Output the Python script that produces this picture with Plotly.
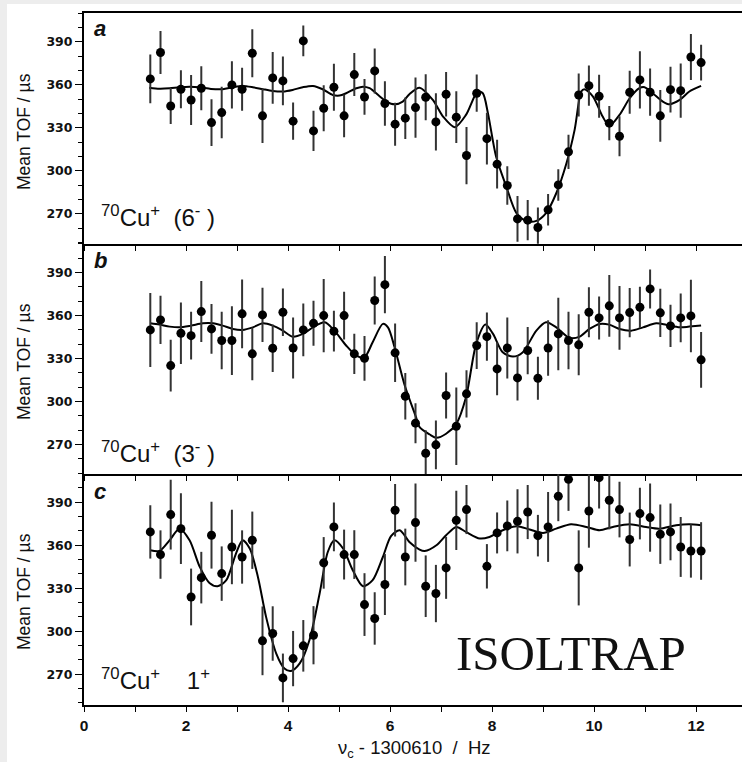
import plotly.graph_objects as go
from plotly.subplots import make_subplots

# ---------------- data ----------------
x_ab = [1.3, 1.5, 1.7, 1.9, 2.1, 2.3, 2.5, 2.7, 2.9, 3.1, 3.3, 3.5, 3.7, 3.9, 4.1, 4.3,
        4.5, 4.7, 4.9, 5.1, 5.3, 5.5, 5.7, 5.9, 6.1, 6.3, 6.5, 6.7, 6.9, 7.1, 7.3, 7.5,
        7.7, 7.9, 8.1, 8.3, 8.5, 8.7, 8.9, 9.1, 9.3, 9.5, 9.7, 9.9, 10.1, 10.3, 10.5,
        10.7, 10.9, 11.1, 11.3, 11.5, 11.7, 11.9, 12.1]

y_a = [364.2, 382.6, 345.3, 357.0, 349.5, 357.7, 333.7, 340.7, 360.0, 357.0,
       382.1, 338.4, 364.9, 362.8, 334.7, 390.7, 327.9, 343.7, 358.4, 338.4,
       367.2, 351.6, 369.8, 347.0, 332.6, 336.8, 344.2, 351.4, 334.2, 353.5,
       337.5, 310.7, 354.2, 322.5, 304.7, 289.8, 266.5, 265.6, 260.5, 272.8,
       290.2, 313.3, 353.0, 359.5, 352.1, 333.3, 324.2, 354.9, 363.5, 354.9,
       338.4, 356.7, 356.0, 379.5, 375.6]
err_a = [17, 15, 12.5, 13.3, 17.5, 15.3, 16.3, 18, 16.5, 15,
         16.7, 19, 18, 17, 13, 10.7, 14, 16, 16.4, 15,
         15, 12.5, 15.7, 15.5, 15, 14.5, 21, 16, 20, 15.5,
         18, 20, 13, 18, 17, 13.4, 16, 14, 14, 11,
         11, 12, 15, 14, 15, 12, 14, 15, 20, 16.5,
         18, 16, 19, 16, 12.5]

y_b = [350.0, 357.0, 325.1, 347.7, 346.0, 362.8, 350.7, 342.6, 342.6, 361.2,
       333.3, 360.5, 337.2, 362.3, 337.4, 350.0, 354.6, 360.0, 349.1, 360.0,
       333.3, 330.2, 370.5, 381.6, 334.0, 303.7, 284.9, 263.9, 269.8, 304.2,
       282.8, 305.4, 339.1, 345.3, 322.8, 337.4, 316.5, 335.6, 316.3, 337.4,
       347.2, 342.6, 339.6, 362.3, 358.4, 366.8, 358.4, 362.1, 365.8, 378.6,
       361.9, 352.8, 358.4, 359.8, 329.1]
err_b = [25.8, 16.9, 18, 21.5, 16.6, 21.3, 17.4, 20, 24, 24,
         18.4, 19, 16.6, 16.6, 21.3, 18.4, 15.7, 25.6, 14.2, 16.6,
         14, 15.6, 16.8, 20, 20.4, 16.3, 14, 16, 17, 16,
         27, 16.5, 16.3, 16.9, 18.4, 21.3, 15.7, 16.5, 15, 19.4,
         25.3, 20, 21.3, 17.4, 15, 21.5, 22.3, 17.2, 14.4, 13.6,
         16.9, 14.8, 17, 25.3, 19.4]

x_c = [1.3, 1.5, 1.7, 1.9, 2.1, 2.3, 2.5, 2.7, 2.9, 3.1, 3.3, 3.5, 3.7, 3.9, 4.1, 4.3,
       4.5, 4.7, 4.9, 5.1, 5.3, 5.5, 5.7, 5.9, 6.1, 6.3, 6.5, 6.7, 6.9, 7.1, 7.3, 7.5,
       7.9, 8.1, 8.3, 8.5, 8.7, 8.9, 9.1, 9.3, 9.5, 9.7, 9.9, 10.1, 10.3, 10.5,
       10.7, 10.9, 11.1, 11.3, 11.5, 11.7, 11.9, 12.1]
y_c = [369.3, 353.5, 381.4, 371.6, 323.9, 337.4, 367.0, 340.2, 358.8, 351.8,
       363.5, 293.3, 298.4, 267.4, 280.9, 289.8, 297.2, 347.7, 372.8, 353.5,
       353.5, 318.6, 308.9, 332.6, 384.4, 351.8, 375.8, 331.4, 326.3, 344.2,
       377.4, 384.9,
       345.3, 368.6, 373.5, 376.7, 383.2, 366.7, 372.8, 394.2, 406.0, 344.2,
       383.9, 407.2, 391.4, 384.9, 364.0, 382.1, 379.3, 367.7, 369.3, 358.8,
       356.0, 356.0]
err_c = [18.6, 16.9, 24.4, 24.7, 19.8, 18, 23.3, 19, 26, 18.6,
         20, 24, 19, 17, 19.3, 18, 20.3, 18, 17, 17.4,
         17, 21.9, 18.3, 21.3, 18.3, 19.8, 27.3, 21.5, 20, 21.6,
         20.7, 17.1,
         15.5, 14.3, 17.7, 22.4, 18.9, 14.5, 24.4, 17.4, 22, 26.2,
         25.6, 21.6, 20.3, 19.4, 18.8, 18, 23.8, 20.7, 19.8, 20.9,
         18.6, 20.1]

# fitted curves
fit_a_x = [1.28, 1.48, 1.68, 1.87, 2.07, 2.27, 2.49, 2.72, 2.92, 3.11, 3.31, 3.51, 3.70,
           3.90, 4.09, 4.29, 4.49, 4.68, 4.88, 5.01, 5.14, 5.34, 5.47, 5.60, 5.79, 5.93,
           6.09, 6.25, 6.38, 6.58, 6.84, 7.04, 7.27, 7.49, 7.72, 7.82, 7.92, 8.08, 8.28,
           8.48, 8.67, 8.87, 9.06, 9.26, 9.46, 9.62, 9.75, 9.81, 9.98, 10.17, 10.30,
           10.50, 10.70, 10.89, 10.99, 11.15, 11.35, 11.48, 11.68, 11.87, 12.10]
fit_a_y = [358.1, 357.4, 357.7, 358.4, 358.8, 358.4, 357.2, 357.0, 358.4, 359.3, 358.4,
           357.0, 355.8, 355.4, 356.5, 358.4, 359.3, 357.0, 353.0, 352.6, 354.2, 357.7,
           358.8, 357.7, 352.3, 348.4, 346.5, 348.4, 353.5, 358.1, 349.5, 337.9, 330.5,
           339.1, 355.4, 354.2, 340.3, 310.0, 289.1, 270.5, 265.1, 265.1, 270.5, 284.4,
           305.3, 328.6, 355.4, 357.0, 351.9, 337.9, 331.4, 339.1, 350.7, 357.7, 358.4,
           354.2, 348.4, 346.5, 349.5, 355.4, 359.3]

fit_b_x = [1.30, 1.48, 1.68, 1.87, 2.10, 2.33, 2.53, 2.72, 2.92, 3.11, 3.31, 3.51, 3.70,
           3.90, 4.09, 4.29, 4.49, 4.72, 4.91, 5.14, 5.34, 5.50, 5.66, 5.86, 5.96, 6.09,
           6.28, 6.51, 6.58, 6.78, 6.91, 7.10, 7.30, 7.49, 7.69, 7.87, 8.02, 8.21, 8.41,
           8.60, 8.87, 9.06, 9.26, 9.52, 9.72, 9.91, 10.11, 10.30, 10.50, 10.73, 10.96,
           11.22, 11.42, 11.68, 11.87, 12.10]
fit_b_y = [354.6, 353.7, 352.3, 351.8, 353.0, 354.6, 354.6, 353.0, 350.7, 350.0, 351.8,
           354.6, 353.0, 349.5, 345.3, 347.2, 351.8, 355.3, 349.5, 339.1, 332.1, 330.9,
           341.4, 354.2, 351.8, 337.9, 312.3, 289.1, 282.1, 277.0, 274.7, 277.5, 284.4,
           303.0, 340.3, 353.7, 347.2, 334.4, 331.4, 334.3, 349.5, 355.3, 351.8, 344.4,
           345.3, 350.7, 354.2, 353.7, 350.7, 349.5, 351.8, 354.6, 353.5, 351.8, 352.3,
           353.0]

fit_c_x = [1.30, 1.48, 1.68, 1.87, 2.07, 2.27, 2.46, 2.62, 2.79, 2.98, 3.11, 3.25, 3.41,
           3.57, 3.77, 3.93, 4.06, 4.23, 4.42, 4.62, 4.78, 4.91, 5.08, 5.27, 5.47, 5.66,
           5.86, 6.02, 6.19, 6.38, 6.58, 6.68, 6.91, 7.10, 7.30, 7.49, 7.76, 7.95, 8.21,
           8.48, 8.74, 9.00, 9.26, 9.55, 9.85, 10.11, 10.37, 10.70, 11.02, 11.28, 11.61,
           11.87, 12.10]
fit_c_y = [356.5, 356.0, 363.5, 371.6, 363.5, 344.9, 333.7, 331.4, 335.6, 354.2, 363.5,
           357.7, 337.9, 310.0, 284.4, 274.0, 272.3, 277.5, 293.7, 326.3, 355.3, 363.5,
           357.7, 342.6, 331.4, 335.6, 351.8, 366.3, 370.5, 362.3, 357.0, 356.0, 360.0,
           367.0, 372.8, 369.3, 364.7, 365.8, 370.5, 373.3, 371.0, 368.6, 371.6, 374.7,
           372.8, 370.5, 372.8, 374.7, 372.8, 371.6, 374.0, 374.7, 374.0]

y_tick_vals = [270, 300, 330, 360, 390]
y_tick_text = ["270", "300", "330", "360", "390"]
x_tick_vals = [0, 1, 2, 3, 4, 5, 6, 7, 8, 9, 10, 11, 12]
x_tick_text = ["0", "", "2", "", "4", "", "6", "", "8", "", "10", "", "12"]

panel_letters = ["a", "b", "c"]
ion_labels = ["<sup>70</sup>Cu<sup>+</sup>\u00a0\u00a0(6<sup>-</sup>\u00a0)",
              "<sup>70</sup>Cu<sup>+</sup>\u00a0\u00a0(3<sup>-</sup>\u00a0)",
              "<sup>70</sup>Cu<sup>+</sup>\u00a0\u00a0\u00a0\u00a01<sup>+</sup>"]

# ---------------- layout helpers ----------------
W, H = 742, 762
L, R, T, B = 84, 0, 13, 57
PW, PH = W - L - R, H - T - B


def px(x):
    return (x - L) / PW


def py(y):
    return (H - B - y) / PH


fig = make_subplots(rows=3, cols=1, shared_xaxes=True, vertical_spacing=0)

panels = [(x_ab, y_a, err_a, fit_a_x, fit_a_y),
          (x_ab, y_b, err_b, fit_b_x, fit_b_y),
          (x_c, y_c, err_c, fit_c_x, fit_c_y)]

for i, (xs, ys, es, fx, fy) in enumerate(panels, start=1):
    fig.add_trace(go.Scatter(x=fx, y=fy, mode="lines",
                             line=dict(color="black", width=2, shape="spline", smoothing=0.8),
                             showlegend=False, hoverinfo="skip"), row=i, col=1)
    fig.add_trace(go.Scatter(x=xs, y=ys, mode="markers",
                             marker=dict(color="black", size=9),
                             error_y=dict(type="data", array=es, visible=True,
                                          thickness=2, width=0, color="#333333"),
                             showlegend=False), row=i, col=1)

y_ranges = [[249.2, 410.2], [249.2, 410.2], [248.5, 409.5]]
tickfont_y = dict(family="DejaVu Sans", size=12.5, color="#111111", weight="bold")
tickfont_x = dict(family="Liberation Sans", size=15.5, color="#111111", weight="bold")

for i in range(1, 4):
    fig.update_yaxes(range=y_ranges[i - 1], showgrid=False, zeroline=False,
                     showline=True, linecolor="black", linewidth=2,
                     ticks="outside", ticklen=7, tickwidth=1.3, tickcolor="black",
                     tickvals=y_tick_vals, ticktext=y_tick_text, tickfont=tickfont_y,
                     minor=dict(tickvals=[250, 260, 280, 290, 310, 320, 340, 350, 370, 380, 400, 410],
                                ticks="outside", ticklen=4, tickwidth=1.1, tickcolor="black"),
                     row=i, col=1)
    fig.update_xaxes(range=[0, PW / 51.0], showgrid=False, zeroline=False,
                     showline=True, linecolor="black", linewidth=2,
                     ticks="outside", ticklen=5, tickwidth=1.3, tickcolor="black",
                     tickvals=x_tick_vals, ticktext=x_tick_text, tickfont=tickfont_x,
                     showticklabels=(i == 3), mirror=(i == 1),
                     row=i, col=1)

annotations = []
letter_y = [28, 260, 491]
ion_y = [216, 452, 679]
title_y = [132, 362, 592]
for k in range(3):
    annotations.append(dict(text="<b><i>%s</i></b>" % panel_letters[k], x=px(92), y=py(letter_y[k]),
                            xref="paper", yref="paper", xanchor="left", yanchor="middle",
                            showarrow=False,
                            font=dict(family="Liberation Sans", size=22, color="#111111")))
    annotations.append(dict(text=ion_labels[k], x=px(99), y=py(ion_y[k]),
                            xref="paper", yref="paper", xanchor="left", yanchor="middle",
                            showarrow=False,
                            font=dict(family="Liberation Sans", size=24, color="#111111")))
    annotations.append(dict(text="Mean TOF / \u00b5s", x=px(24), y=py(title_y[k]),
                            xref="paper", yref="paper", xanchor="center", yanchor="middle",
                            textangle=-90, showarrow=False,
                            font=dict(family="Liberation Sans", size=17.5, color="#111111")))

annotations.append(dict(text="\u03bd<sub>c</sub> - 1300610\u00a0 /\u00a0 Hz", x=px(414), y=py(749),
                        xref="paper", yref="paper", xanchor="center", yanchor="middle",
                        showarrow=False,
                        font=dict(family="Liberation Sans", size=18.5, color="#111111")))
annotations.append(dict(text="ISOLTRAP", x=px(571), y=py(653),
                        xref="paper", yref="paper", xanchor="center", yanchor="middle",
                        showarrow=False,
                        font=dict(family="Liberation Serif", size=49, color="#111111")))

shapes = [
    dict(type="rect", xref="paper", yref="paper", x0=px(0), x1=px(7), y0=py(H), y1=py(0),
         fillcolor="#ededed", line=dict(width=0), layer="below"),
    dict(type="rect", xref="paper", yref="paper", x0=px(0), x1=px(W), y0=py(4), y1=py(0),
         fillcolor="#ededed", line=dict(width=0), layer="below"),
]

fig.update_layout(width=W, height=H, margin=dict(l=L, r=R, t=T, b=B),
                  paper_bgcolor="white", plot_bgcolor="white",
                  annotations=annotations, shapes=shapes, showlegend=False)

fig.write_html("out.html")
